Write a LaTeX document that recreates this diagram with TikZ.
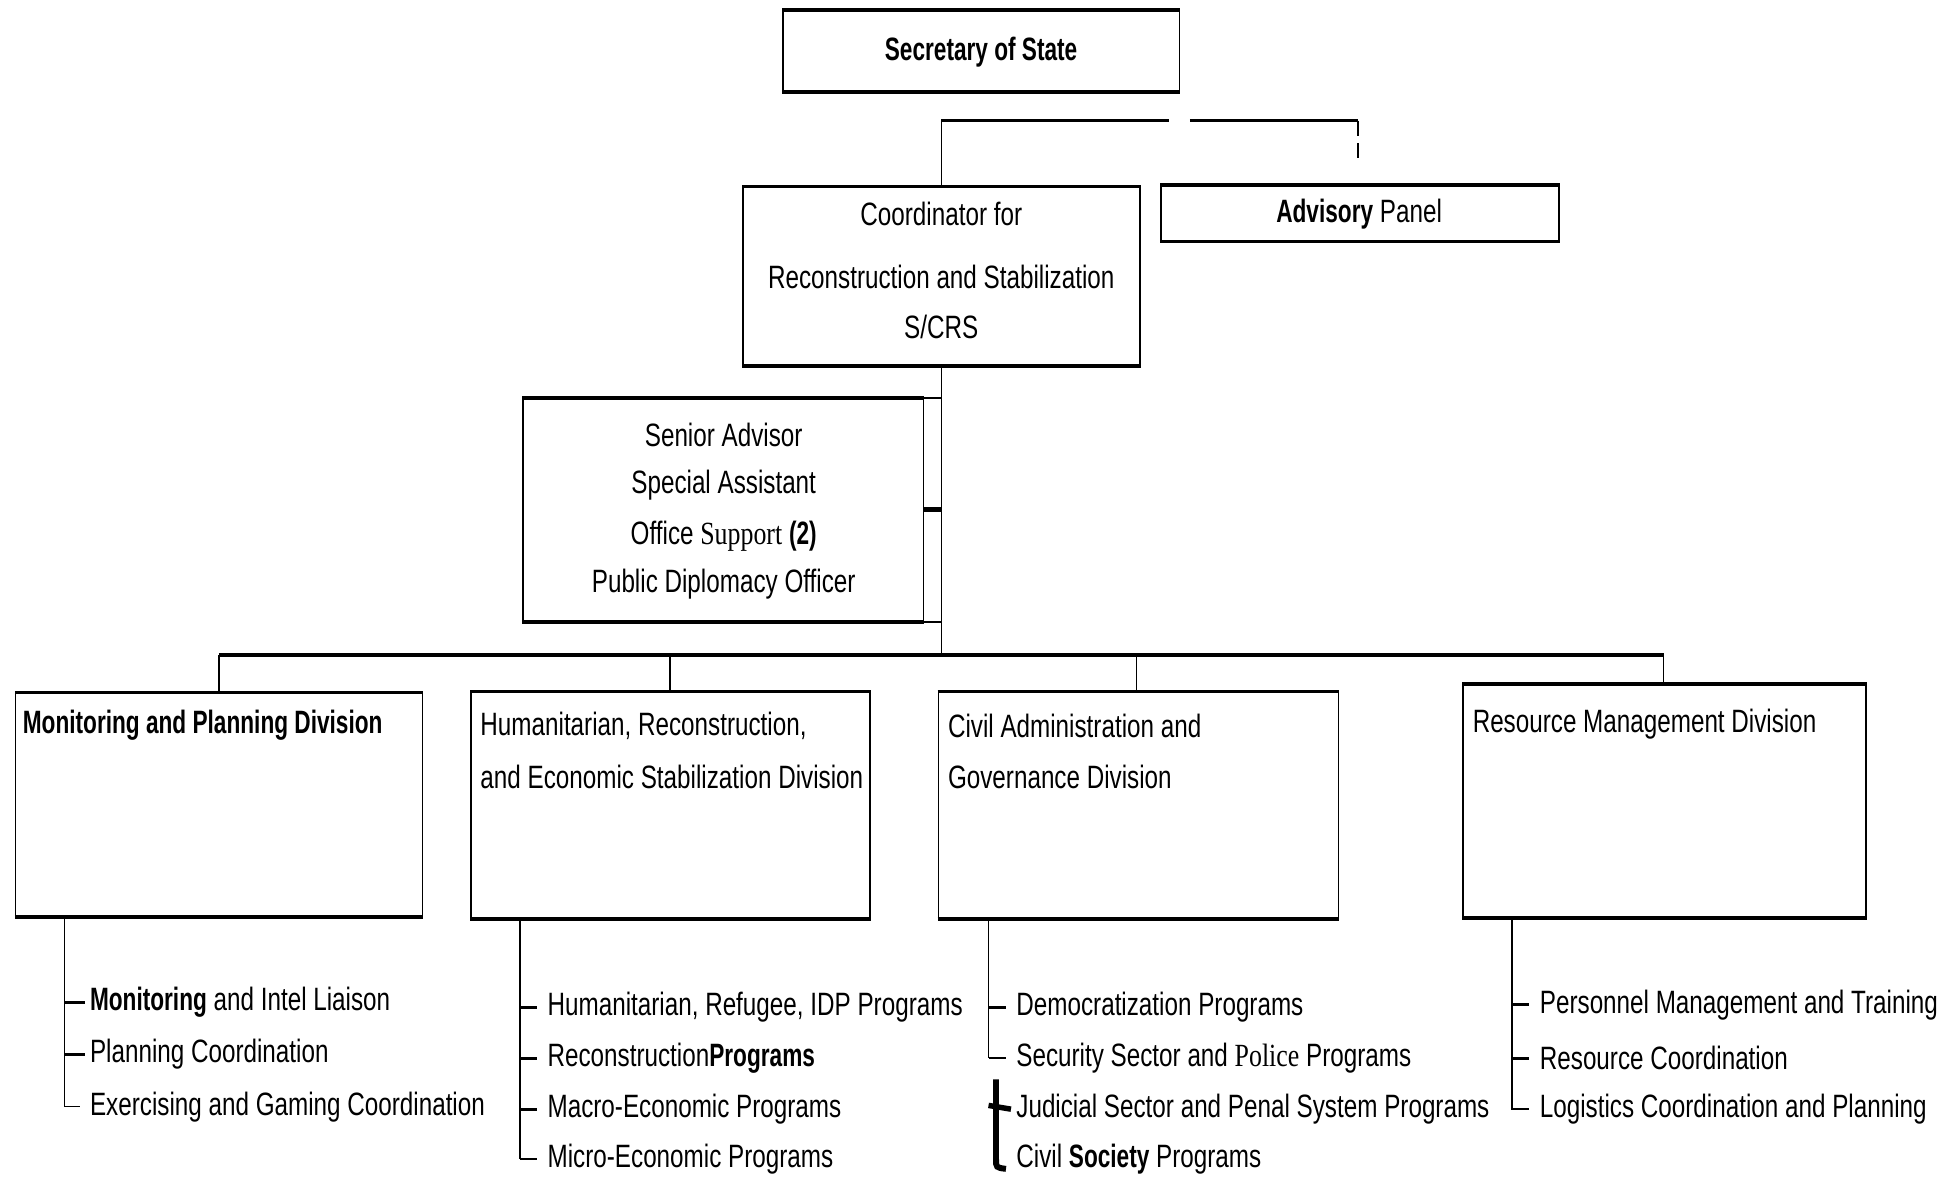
\documentclass[tikz,border=0pt]{standalone}
\usepackage{fontspec}
\setmainfont{Liberation Sans}[FakeStretch=0.75,BoldFeatures={FakeStretch=0.7}]
\newfontfamily\serifpart{Liberation Serif}[FakeStretch=0.8]
\begin{document}
\begin{tikzpicture}[x=0.5pt,y=-0.5pt,
  font=\fontsize{13}{15}\selectfont,
  box/.style={draw, line width=0.6pt, inner sep=0pt, anchor=north west},
  heavy/.style={line width=1.5pt},
  conn/.style={line width=0.6pt},
  tickline/.style={line width=1.1pt},
  txt/.style={inner sep=0pt},
  item/.style={inner sep=0pt, anchor=west}]
\useasboundingbox (0,0) rectangle (1565,948);

% ---------- boxes ----------
\node[box, minimum width=159.5pt, minimum height=32.5pt] (sec) at (629,8) {};
\node[box, minimum width=159.5pt, minimum height=71.5pt] (coord) at (597,150) {};
\node[box, minimum width=160pt, minimum height=22pt] (adv) at (933,149) {};
\node[box, minimum width=161pt, minimum height=89.5pt] (sen) at (420,320) {};
\node[box, minimum width=163.5pt, minimum height=89.5pt] (mp) at (12,557) {};
\node[box, minimum width=160.5pt, minimum height=91pt] (hu) at (378,556) {};
\node[box, minimum width=161pt, minimum height=91pt] (ca) at (754,556) {};
\node[box, minimum width=162pt, minimum height=93.5pt] (rm) at (1176,550) {};

% heavy top and bottom edges
\foreach \b in {sec,coord,adv,sen,mp,hu,ca,rm}{
  \draw[heavy] (\b.north west) -- (\b.north east);
  \draw[heavy] (\b.south west) -- (\b.south east);
}

% ---------- box texts ----------
\node[txt] (tsec) at (789,42) {\bfseries Secretary of State};
\node[txt] (tc1) at (757,172) {Coordinator for};
\node[txt] (tc2) at (757,223) {Reconstruction and Stabilization};
\node[txt] (tc3) at (757,263) {S/CRS};
\node[txt] (tadv) at (1093,172) {\textbf{Advisory} Panel};
\node[txt] (ts1) at (582,350) {Senior Advisor};
\node[txt] (ts2) at (582,390) {Special Assistant};
\node[txt] (ts3) at (582,431) {Office {\serifpart Support} \textbf{(2)}};
\node[txt] (ts4) at (582,470) {Public Diplomacy Officer};

\node[item] (tmp) at (18,583) {\bfseries Monitoring and Planning Division};
\node[item] (thu1) at (386,584) {Humanitarian, Reconstruction,};
\node[item] (thu2) at (386,625) {and Economic Stabilization Division};
\node[item] (tca1) at (762,584) {Civil Administration and};
\node[item] (tca2) at (762,625) {Governance Division};
\node[item] (trm) at (1184,582) {Resource Management Division};

% ---------- top connectors ----------
\coordinate (j1) at (coord.north |- 0,97);
\coordinate (gl) at (940,97);
\coordinate (gr) at (957,97);
\coordinate (j2) at (1092,97);
\coordinate (j3) at (1092,133);
\draw[heavy] (j1) -- (gl);
\draw[heavy] (gr) -- (j2);
\draw[conn, dashed, dash pattern=on 6pt off 3pt] (j2) -- (j3);
\draw[conn] (j1) -- (coord.north);

% trunk
\coordinate (bus) at (coord.south |- 0,527);
\draw[conn] (coord.south) -- (bus);
\draw[conn] (sen.north east) -- (sen.north east -| bus);
\draw[conn] (sen.south east) -- (sen.south east -| bus);
\draw[line width=2pt] (sen.east) -- (sen.east -| bus);

% bus
\coordinate (b1) at (mp.north -| 176,0);
\coordinate (b2) at (hu.north -| 539,0);
\coordinate (b3) at (ca.north -| 914,0);
\coordinate (b4) at (rm.north -| 1338,0);
\draw[heavy] (b1 |- bus) -- (b4 |- bus);
\draw[conn] (b1 |- bus) -- (b1);
\draw[conn] (b2 |- bus) -- (b2);
\draw[conn] (b3 |- bus) -- (b3);
\draw[conn] (b4 |- bus) -- (b4);

% ---------- sub lists ----------
% Monitoring
\node[item] (m1) at (72,806) {\textbf{Monitoring} and Intel Liaison};
\node[item] (m2) at (72,848) {Planning Coordination};
\node[item] (m3) at (72,890) {Exercising and Gaming Coordination};
\coordinate (ms) at (mp.south -| 52,0);
\draw[conn] (ms) -- (ms |- m3.west) -- ([xshift=-4pt]m3.west);
\draw[tickline] (ms |- m1.west) -- ([xshift=-2pt]m1.west);
\draw[tickline] (ms |- m2.west) -- ([xshift=-2pt]m2.west);

% Humanitarian
\node[item] (h1) at (440,810) {Humanitarian, Refugee, IDP Programs};
\node[item] (h2) at (440,851) {Reconstruction\textbf{Programs}};
\node[item] (h3) at (440,892) {Macro-Economic Programs};
\node[item] (h4) at (440,932) {Micro-Economic Programs};
\coordinate (hs) at (hu.south -| 418,0);
\draw[conn] (hs) -- (hs |- h4.west);
\foreach \n in {h1,h2,h3,h4}{
  \draw[tickline] (hs |- \n.west) -- ([xshift=-4pt]\n.west);
}

% Civil
\node[item] (c1) at (817,810) {Democratization Programs};
\node[item] (c2) at (817,851) {Security Sector and {\serifpart Police} Programs};
\node[item] (c3) at (817,892) {Judicial Sector and Penal System Programs};
\node[item] (c4) at (817,932) {Civil \textbf{Society} Programs};
\coordinate (cs) at (ca.south -| 795,0);
\draw[conn] (cs) -- (cs |- c2.west);
\draw[tickline] (cs |- c1.west) -- ([xshift=-4pt]c1.west);
\draw[conn] (cs |- c2.west) -- ([xshift=-4pt]c2.west);
\draw[line width=2.4pt] (801,868) -- (801,932) .. controls (801,939) .. (809,940);
\draw[line width=2.2pt] (795,889) -- ([xshift=-2pt]c3.west);

% Resource
\node[item] (r1) at (1238,808) {Personnel Management and Training};
\node[item] (r2) at (1238,851) {Resource Coordination};
\node[item] (r3) at (1238,892) {Logistics Coordination and Planning};
\coordinate (rs) at (rm.south -| 1216,0);
\draw[conn] (rs) -- (rs |- r3.west) -- ([xshift=-4pt]r3.west);
\draw[tickline] (rs |- r1.west) -- ([xshift=-4pt]r1.west);
\draw[tickline] (rs |- r2.west) -- ([xshift=-4pt]r2.west);
\end{tikzpicture}
\end{document}
